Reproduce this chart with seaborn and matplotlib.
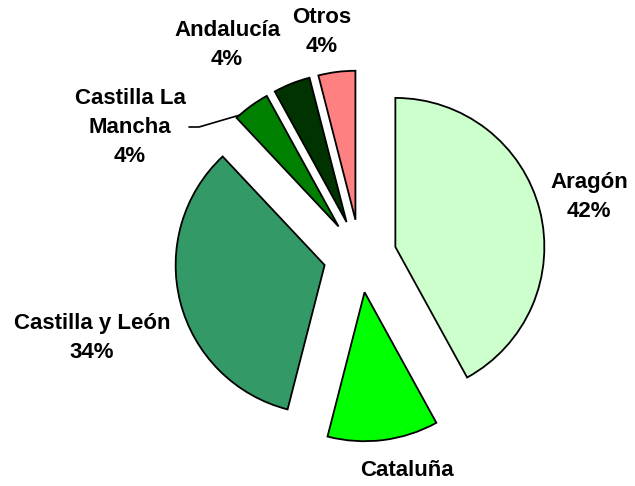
import matplotlib
matplotlib.use("Agg")
import matplotlib.pyplot as plt
import seaborn as sns

regions = ["Aragón", "Cataluña", "Castilla y León", "Castilla La Mancha", "Andalucía", "Otros"]
shares = [42, 12, 34, 4, 4, 4]
colors = ["#CCFFCC", "#00FF00", "#339966", "#008000", "#003300", "#FF8080"]
label_texts = ["Aragón\n42%", "Cataluña", "Castilla y León\n34%",
               "Castilla La\nMancha\n4%", "Andalucía\n4%", "Otros\n4%"]

sns.set_theme(style="white")
plt.rcParams["font.family"] = ["Liberation Sans", "DejaVu Sans"]

# pixel geometry of the reference: pie centre and radius
CX, CY, R = 360, 256, 149


def to_data(px, py):
    return (px - CX) / R, (CY - py) / R


fig = plt.figure(figsize=(6.35, 4.86), dpi=100)
ax = fig.add_axes([0, 0, 1, 1])

ax.pie(
    shares,
    colors=colors,
    startangle=90,
    counterclock=False,
    explode=[0.245] * len(shares),
    wedgeprops={"edgecolor": "black", "linewidth": 1.3},
)

# label centres in pixels
label_pos = [(589, 197), (407, 470), (92, 338), (130, 127), (227, 45), (322, 32)]
for txt, (px, py) in zip(label_texts, label_pos):
    x, y = to_data(px, py)
    ax.text(x, y, txt, ha="center", va="center", fontsize=16, color="black",
            fontweight="bold", linespacing=1.5)

# leader line for Castilla La Mancha
p0 = to_data(189, 127)
p1 = to_data(199, 127)
p2 = to_data(240, 115)
ax.plot([p0[0], p1[0], p2[0]], [p0[1], p1[1], p2[1]], color="black", linewidth=1.2)

ax.set_xlim(-CX / R, (635 - CX) / R)
ax.set_ylim(-(486 - CY) / R, CY / R)
ax.set_aspect("equal")
ax.axis("off")

fig.savefig("out.png", dpi=100)
